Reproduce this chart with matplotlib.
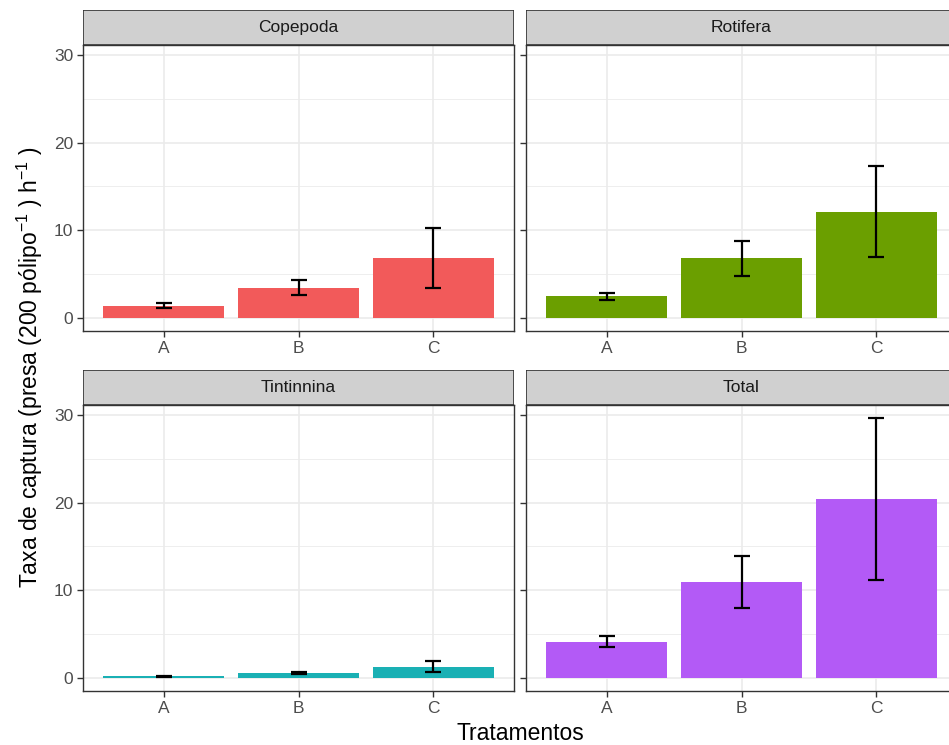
import matplotlib
matplotlib.use("Agg")
from matplotlib import pyplot as plt
from matplotlib.patches import Rectangle
import numpy as np

plt.rcParams['font.family'] = ['Liberation Sans', 'DejaVu Sans']
plt.rcParams['mathtext.fontset'] = 'custom'
plt.rcParams['mathtext.rm'] = 'Liberation Sans'
plt.rcParams['mathtext.it'] = 'Liberation Sans'

# dados
tratamentos = ['A', 'B', 'C']
grupos = ['Copepoda', 'Rotifera', 'Tintinnina', 'Total']
cores = ['#F25A5A', '#6B9F00', '#1AB0B4', '#B35AF6']

copepoda = [1.4, 3.45, 6.85]
copepoda_err = [0.3, 0.85, 3.4]
rotifera = [2.5, 6.8, 12.1]
rotifera_err = [0.4, 2.0, 5.2]
tintinnina = [0.22, 0.55, 1.3]
tintinnina_err = [0.05, 0.15, 0.65]
total = [4.15, 10.95, 20.4]
total_err = [0.6, 2.95, 9.25]

medias = [copepoda, rotifera, tintinnina, total]
erros = [copepoda_err, rotifera_err, tintinnina_err, total_err]

W, H = 949, 745
fig = plt.figure(figsize=(W / 100, H / 100), dpi=100)

pw, ph = 431, 286
lefts = [83, 526]
tops = [45, 405]
strip_h = 35

ymax = max(np.array(total) + np.array(total_err))
ylo, yhi = -0.05 * ymax, ymax * 1.05

for i, g in enumerate(grupos):
    r, c = divmod(i, 2)
    x0, y0 = lefts[c], tops[r]
    ax = fig.add_axes([x0 / W, 1 - (y0 + ph) / H, pw / W, ph / H])
    x = np.arange(1, 4)
    ax.bar(x, medias[i], width=0.9, color=cores[i], zorder=2)
    ax.errorbar(x, medias[i], yerr=erros[i], fmt='none', ecolor='black',
                elinewidth=1.6, capsize=5.5, capthick=1.6, zorder=3)
    ax.set_xlim(0.4, 3.6)
    ax.set_ylim(ylo, yhi)
    ax.set_xticks(x)
    ax.set_xticklabels(tratamentos)
    ax.set_yticks([0, 10, 20, 30])
    ax.set_yticks([5, 15, 25], minor=True)
    ax.grid(which='major', color='#EBEBEB', linewidth=1.2, zorder=0)
    ax.grid(which='minor', axis='y', color='#EBEBEB', linewidth=0.6, zorder=0)
    ax.set_axisbelow(True)
    ax.tick_params(axis='both', which='major', length=4, width=1, color='#333333',
                   labelsize=12.5, labelcolor='#4D4D4D', pad=3)
    ax.tick_params(which='minor', length=0)
    if c == 1:
        ax.tick_params(axis='y', labelleft=False)
    for s in ax.spines.values():
        s.set_color('#333333')
        s.set_linewidth(1.0)
    # faixa do facet
    sax = fig.add_axes([x0 / W, 1 - y0 / H, pw / W, strip_h / H])
    sax.add_patch(Rectangle((0, 0), 1, 1, transform=sax.transAxes,
                            facecolor='#D0D0D0', edgecolor='#333333', linewidth=1.2))
    sax.set_axis_off()
    sax.text(0.5, 0.5, g, ha='center', va='center', fontsize=12.5, color='#1A1A1A',
             transform=sax.transAxes)

fig.text(520 / W, 1 - 733 / H, 'Tratamentos', ha='center', va='center', fontsize=16.5)
fig.text(30 / W, 1 - 367 / H,
         r'Taxa de captura (presa (200 pólipo$^{-1}$ ) h$^{-1}$ )',
         ha='center', va='center', rotation=90, fontsize=16.5)

fig.savefig('out.png', dpi=100)
